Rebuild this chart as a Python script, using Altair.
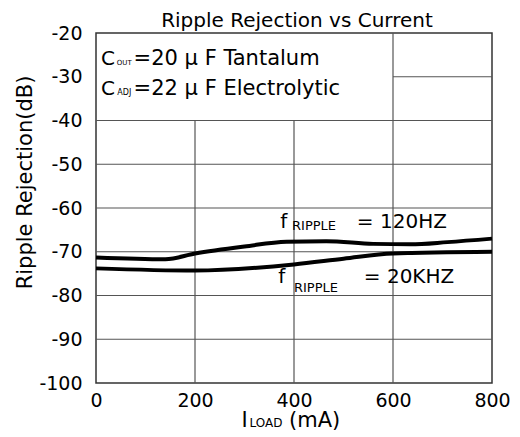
import altair as alt
import pandas as pd

# ---- data ----
x_120 = [0, 140, 200, 300, 385, 465, 560, 635, 710, 800]
y_120 = [-71.3, -71.7, -70.4, -68.8, -67.7, -67.6, -68.2, -68.3, -67.8, -67.0]
x_20k = [0, 200, 400, 500, 600, 800]
y_20k = [-73.8, -74.3, -72.9, -71.6, -70.4, -70.0]

x_ticks = [0, 200, 400, 600, 800]
y_ticks = [-100, -90, -80, -70, -60, -50, -40, -30, -20]

# legend box (upper-left, no grid inside)
box_x_end = 600
box_y_bottom = -40

FONT = "DejaVu Sans"

lines = pd.DataFrame(
    {"x": x_120 + x_20k,
     "y": y_120 + y_20k,
     "s": ["120HZ"] * len(x_120) + ["20KHZ"] * len(x_20k)}
)

hgrid = pd.DataFrame(
    [{"y": t, "x0": (box_x_end if t > box_y_bottom else 0), "x1": 800}
     for t in y_ticks if -100 < t < -20]
)
vgrid = pd.DataFrame(
    [{"x": t, "y0": -100, "y1": (-20 if t >= box_x_end else box_y_bottom)}
     for t in x_ticks if 0 < t < 800]
)

ann = pd.DataFrame([
    # legend box text
    {"t": "C", "x": 10, "y": -27.2, "size": 20},
    {"t": "OUT", "x": 42, "y": -27.3, "size": 7},
    {"t": "=20 \u03bc F Tantalum", "x": 76, "y": -27.2, "size": 21},
    {"t": "C", "x": 10, "y": -34.06, "size": 20},
    {"t": "ADJ", "x": 43, "y": -34.06, "size": 8},
    {"t": "=22 \u03bc F Electrolytic", "x": 76, "y": -34.06, "size": 21},
    # curve labels
    {"t": "f", "x": 372, "y": -64.6, "size": 20},
    {"t": "RIPPLE", "x": 396, "y": -65.05, "size": 13},
    {"t": "= 120HZ", "x": 527, "y": -64.6, "size": 20},
    {"t": "f", "x": 368, "y": -77.1, "size": 20},
    {"t": "RIPPLE", "x": 400, "y": -79.2, "size": 13},
    {"t": "= 20KHZ", "x": 541, "y": -77.1, "size": 20},
    # x title with subscript
    {"t": "I", "x": 294, "y": -110.0, "size": 21},
    {"t": "LOAD", "x": 310, "y": -110.0, "size": 12},
    {"t": "(mA)", "x": 390, "y": -110.0, "size": 21},
])

titles = pd.DataFrame([
    {"t": "Ripple Rejection vs Current", "x": 406, "y": -18.54},
])

ytitle = pd.DataFrame([
    {"t": "Ripple Rejection(dB)", "x": -129.3, "y": -54.17},
])

xs = alt.Scale(domain=[0, 800], nice=False)
ys = alt.Scale(domain=[-100, -20], nice=False)

base_x = alt.X("x:Q", scale=xs, axis=alt.Axis(
    values=x_ticks, title=None, ticks=False, domain=False, grid=False,
    labelFont=FONT, labelFontSize=19, labelColor="black", labelPadding=8,
    labelFlush=False))
base_y = alt.Y("y:Q", scale=ys, axis=alt.Axis(
    values=y_ticks, title=None, ticks=False, domain=False, grid=False,
    labelFont=FONT, labelFontSize=19, labelColor="black", labelPadding=14,
    labelExpr="'' + datum.value"))

grid_h = alt.Chart(hgrid).mark_rule(color="#555555", strokeWidth=1.2).encode(
    x=alt.X("x0:Q", scale=xs), x2="x1:Q", y=alt.Y("y:Q", scale=ys))
grid_v = alt.Chart(vgrid).mark_rule(color="#555555", strokeWidth=1.2).encode(
    x=alt.X("x:Q", scale=xs), y=alt.Y("y0:Q", scale=ys), y2="y1:Q")

curves = alt.Chart(lines).mark_line(color="black", strokeWidth=4,
                                    interpolate="monotone").encode(
    x=base_x, y=base_y, detail="s:N")

texts = alt.Chart(ann).mark_text(font=FONT, align="left", baseline="alphabetic",
                                 color="black").encode(
    x=alt.X("x:Q", scale=xs), y=alt.Y("y:Q", scale=ys),
    text="t:N", size=alt.Size("size:Q", scale=None))

title_t = alt.Chart(titles).mark_text(font=FONT, fontSize=20, align="center",
                                      baseline="alphabetic", color="black").encode(
    x=alt.X("x:Q", scale=xs), y=alt.Y("y:Q", scale=ys), text="t:N")

ytitle_t = alt.Chart(ytitle).mark_text(font=FONT, fontSize=21, align="center",
                                       baseline="alphabetic", angle=270,
                                       color="black").encode(
    x=alt.X("x:Q", scale=xs), y=alt.Y("y:Q", scale=ys), text="t:N")

chart = alt.layer(grid_h, grid_v, curves, texts, title_t, ytitle_t).properties(
    width=396, height=350,
    autosize=alt.AutoSizeParams(type="none"),
    padding={"left": 88, "top": 25, "right": 20, "bottom": 49},
    background="white",
).configure_view(stroke="#333333", strokeWidth=1.5)

chart.save("out.html", embed_options={"renderer": "svg", "actions": False})
